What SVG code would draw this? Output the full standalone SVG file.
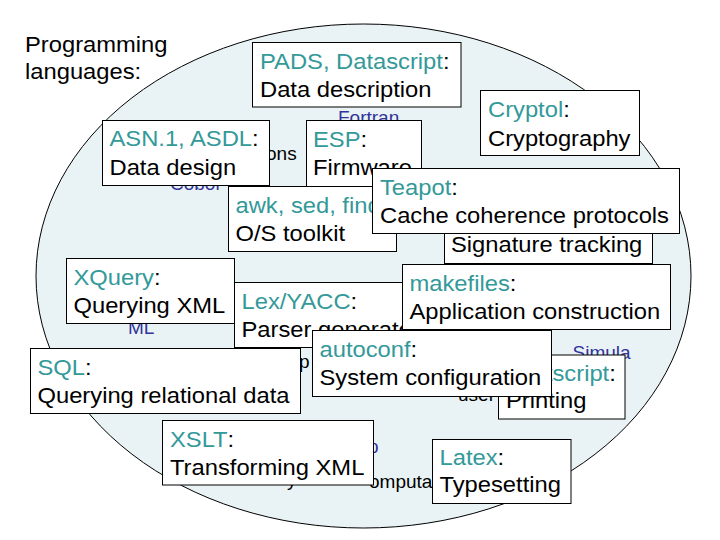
<svg xmlns="http://www.w3.org/2000/svg" width="720" height="540" viewBox="0 0 720 540">
<style>
.box{fill:#fff;stroke:#000;stroke-width:1}
.t{font-family:"Liberation Sans",Arial,sans-serif;font-size:22px;fill:#000}
.k{fill:#339999}
.f{font-family:"Liberation Sans",Arial,sans-serif;font-size:19px;fill:#000}
.lang{fill:#333399}
</style>
<rect x="0" y="0" width="720" height="540" fill="#fff"/>
<g id="title">
<text class="t" transform="translate(25 52) scale(1.08 1)">Programming</text>
<text class="t" transform="translate(25 79) scale(1.08 1)">languages:</text>
</g>
<g id="domain">
<ellipse cx="363.5" cy="276" rx="327.5" ry="252" fill="#e9f3f5" stroke="#000" stroke-width="1"/>
</g>
<g id="background-labels">
<text class="f lang" x="338" y="124">Fortran</text>
<text class="f" x="266" y="160">ons</text>
<text class="f lang" x="170" y="190">Cobol</text>
<text class="f lang" x="128" y="333.5">ML</text>
<text class="f" x="299" y="368">p</text>
<text class="f lang" x="572.5" y="358.5">Simula</text>
<text class="f" x="458" y="401">user</text>
<text class="f lang" x="368" y="453">p</text>
<text class="f" x="287" y="486">y</text>
<text class="f" x="369" y="488">omputa</text>
</g>
<g id="pads">
<rect class="box" x="252.5" y="42.5" width="208.5" height="64.5"/>
<text class="t" transform="translate(260 69) scale(1.08 1)"><tspan class="k">PADS, Datascript</tspan>:</text>
<text class="t" transform="translate(260 97) scale(1.08 1)">Data description</text>
</g>
<g id="cryptol">
<rect class="box" x="480.5" y="90.5" width="159" height="65"/>
<text class="t" transform="translate(488 117) scale(1.08 1)"><tspan class="k">Cryptol</tspan>:</text>
<text class="t" transform="translate(488 146) scale(1.08 1)">Cryptography</text>
</g>
<g id="asn">
<rect class="box" x="102.5" y="120.5" width="167" height="65"/>
<text class="t" transform="translate(109.5 146) scale(1.08 1)"><tspan class="k">ASN.1, ASDL</tspan>:</text>
<text class="t" transform="translate(109.5 175) scale(1.08 1)">Data design</text>
</g>
<g id="esp">
<rect class="box" x="306.5" y="120.5" width="115" height="66"/>
<text class="t" transform="translate(313 146.5) scale(1.08 1)"><tspan class="k">ESP</tspan>:</text>
<text class="t" transform="translate(313 175) scale(1.08 1)">Firmware</text>
</g>
<g id="signature">
<rect class="box" x="444.5" y="200.5" width="208" height="63"/>
<text class="t" transform="translate(451 252) scale(1.08 1)">Signature tracking</text>
</g>
<g id="awk">
<rect class="box" x="228.5" y="186.5" width="168" height="65"/>
<text class="t" transform="translate(235.5 212.5) scale(1.08 1)"><tspan class="k">awk, sed, find</tspan>:</text>
<text class="t" transform="translate(235.5 241) scale(1.08 1)">O/S toolkit</text>
</g>
<g id="teapot">
<rect class="box" x="372.5" y="168.5" width="307" height="65"/>
<text class="t" transform="translate(380 195) scale(1.08 1)"><tspan class="k">Teapot</tspan>:</text>
<text class="t" transform="translate(380 223) scale(1.08 1)">Cache coherence protocols</text>
</g>
<g id="xquery">
<rect class="box" x="66.5" y="258.5" width="168" height="65"/>
<text class="t" transform="translate(73.5 285) scale(1.08 1)"><tspan class="k">XQuery</tspan>:</text>
<text class="t" transform="translate(73.5 313) scale(1.08 1)">Querying XML</text>
</g>
<g id="lexyacc">
<rect class="box" x="234.5" y="282.5" width="196" height="65"/>
<text class="t" transform="translate(241.5 308.5) scale(1.08 1)"><tspan class="k">Lex/YACC</tspan>:</text>
<text class="t" transform="translate(241.5 337) scale(1.08 1)">Parser generators</text>
</g>
<g id="makefiles">
<rect class="box" x="402.5" y="264.5" width="268" height="65"/>
<text class="t" transform="translate(409.5 291) scale(1.08 1)"><tspan class="k">makefiles</tspan>:</text>
<text class="t" transform="translate(409.5 318.5) scale(1.08 1)">Application construction</text>
</g>
<g id="postscript">
<rect class="box" x="498.5" y="355" width="126.5" height="64"/>
<text class="t" transform="translate(505 380.5) scale(1.08 1)"><tspan class="k">Postscript</tspan>:</text>
<text class="t" transform="translate(506 408) scale(1.08 1)">Printing</text>
</g>
<g id="autoconf">
<rect class="box" x="312.5" y="330.5" width="239" height="66"/>
<text class="t" transform="translate(319.5 357) scale(1.08 1)"><tspan class="k">autoconf</tspan>:</text>
<text class="t" transform="translate(319.5 385) scale(1.08 1)">System configuration</text>
</g>
<g id="sql">
<rect class="box" x="30.5" y="348.5" width="270" height="65"/>
<text class="t" transform="translate(37.5 375) scale(1.08 1)"><tspan class="k">SQL</tspan>:</text>
<text class="t" transform="translate(37.5 403) scale(1.08 1)">Querying relational data</text>
</g>
<g id="xslt">
<rect class="box" x="162.5" y="420.5" width="211" height="64.5"/>
<text class="t" transform="translate(170 447) scale(1.08 1)"><tspan class="k">XSLT</tspan>:</text>
<text class="t" transform="translate(170 475) scale(1.08 1)">Transforming XML</text>
</g>
<g id="latex">
<rect class="box" x="432.5" y="439.5" width="138.5" height="64"/>
<text class="t" transform="translate(439.5 464.5) scale(1.08 1)"><tspan class="k">Latex</tspan>:</text>
<text class="t" transform="translate(439.5 492) scale(1.08 1)">Typesetting</text>
</g>
</svg>
